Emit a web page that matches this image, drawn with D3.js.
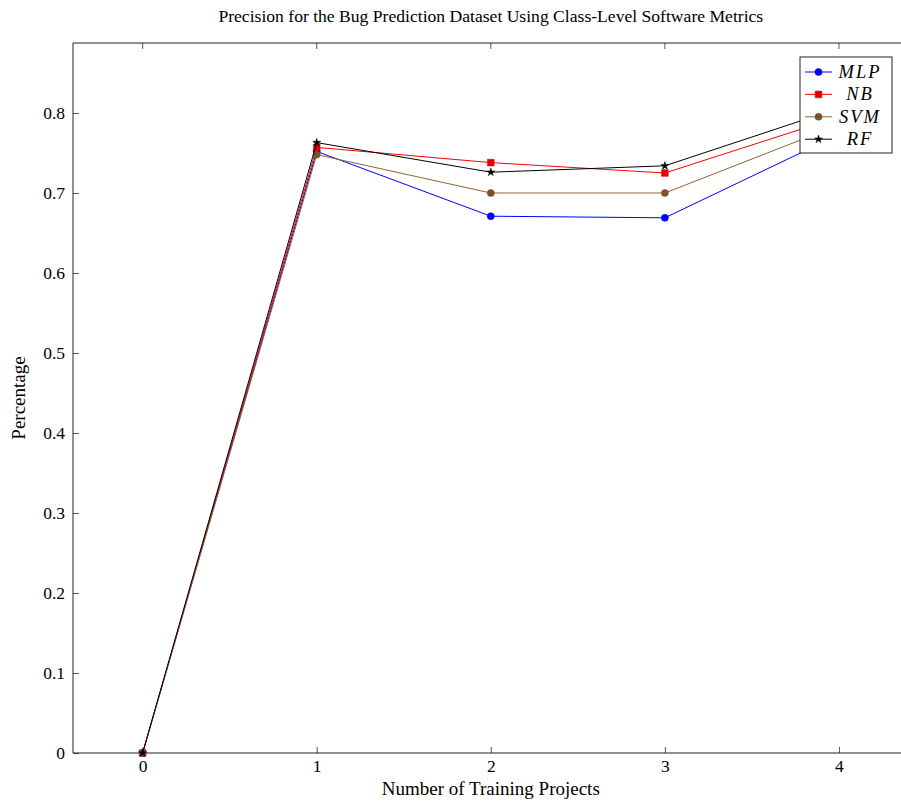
<!DOCTYPE html>
<html>
<head>
<meta charset="utf-8">
<script src="https://cdn.jsdelivr.net/npm/d3@7"></script>
<style>
  body { margin: 0; background: #fff; }
  text { font-family: "Liberation Serif", "Times New Roman", serif; fill: #000; }
</style>
</head>
<body>
<div id="chart"></div>
<script>
var projects = [0, 1, 2, 3, 4];
var mlp = [0, 0.752, 0.671, 0.669, 0.773];
var nb = [0, 0.757, 0.738, 0.725, 0.795];
var svm = [0, 0.748, 0.700, 0.700, 0.785];
var rf = [0, 0.763, 0.726, 0.734, 0.806];
var yTicks = [0, 0.1, 0.2, 0.3, 0.4, 0.5, 0.6, 0.7, 0.8];

var series = [
  { name: 'MLP', values: mlp, color: '#0000ff', fill: '#0000ff', mark: 'circle' },
  { name: 'NB', values: nb, color: '#ff0000', fill: '#e00000', mark: 'square' },
  { name: 'SVM', values: svm, color: '#8f6433', fill: '#7a5228', mark: 'circle' },
  { name: 'RF', values: rf, color: '#000000', fill: '#000000', mark: 'star' }
];

var width = 901, height = 808;
// plot box (window.top is reserved, so keep it in an object)
var box = { left: 73, right: 908.6, top: 43, bottom: 753 };

var svg = d3.select('#chart').append('svg')
  .attr('width', width)
  .attr('height', height);

var x = d3.scaleLinear().domain([-0.4, 4.4]).range([box.left, box.right]);
var y = d3.scaleLinear().domain([0, 0.8875]).range([box.bottom, box.top]);

// title
svg.append('text')
  .attr('x', (box.left + box.right) / 2)
  .attr('y', 22)
  .attr('text-anchor', 'middle')
  .style('font-size', '17.6px')
  .text('Precision for the Bug Prediction Dataset Using Class-Level Software Metrics');

// axes, ticks drawn inward like pgfplots
var xAxis = d3.axisBottom(x).tickValues(projects).tickFormat(d3.format('d'))
  .tickSizeInner(-6).tickSizeOuter(0).tickPadding(7);
var yAxis = d3.axisLeft(y).tickValues(yTicks).tickFormat(d => d === 0 ? '0' : d3.format('.1f')(d))
  .tickSizeInner(-6).tickSizeOuter(0).tickPadding(8);

var gx = svg.append('g')
  .attr('transform', `translate(0, ${box.bottom})`)
  .call(xAxis);
var gy = svg.append('g')
  .attr('transform', `translate(${box.left}, 0)`)
  .call(yAxis);

[gx, gy].forEach(g => {
  g.select('.domain').remove();
  g.selectAll('.tick line').attr('stroke', '#555');
  g.selectAll('.tick text')
    .style('font-family', '"Liberation Serif", serif')
    .style('font-size', '17.5px')
    .attr('fill', '#000');
});

// top ticks
svg.append('g').selectAll('line')
  .data(projects)
  .enter().append('line')
    .attr('x1', d => x(d)).attr('x2', d => x(d))
    .attr('y1', box.top).attr('y2', box.top + 6)
    .attr('stroke', '#555');

// frame
svg.append('path')
  .attr('d', `M${box.right},${box.top}H${box.left}V${box.bottom}H${box.right}V${box.top}`)
  .attr('fill', 'none')
  .attr('stroke', '#222')
  .attr('stroke-width', 1);

// axis labels
svg.append('text')
  .attr('x', (box.left + box.right) / 2)
  .attr('y', 795)
  .attr('text-anchor', 'middle')
  .style('font-size', '19px')
  .text('Number of Training Projects');

svg.append('text')
  .attr('transform', `translate(25, ${(box.top + box.bottom) / 2}) rotate(-90)`)
  .attr('text-anchor', 'middle')
  .style('font-size', '19px')
  .text('Percentage');

var line = d3.line()
  .x((d, i) => x(projects[i]))
  .y(d => y(d));

var symbols = {
  circle: d3.symbol().type(d3.symbolCircle).size(40),
  square: d3.symbol().type(d3.symbolSquare).size(45),
  star: d3.symbol().type(d3.symbolStar).size(20)
};

series.forEach(s => {
  svg.append('path')
    .datum(s.values)
    .attr('fill', 'none')
    .attr('stroke', s.color)
    .attr('stroke-width', 1)
    .attr('d', line);

  svg.append('g').selectAll('path')
    .data(s.values)
    .enter().append('path')
      .attr('transform', (d, i) => `translate(${x(projects[i])}, ${y(d)})`)
      .attr('d', symbols[s.mark]())
      .attr('fill', s.fill)
      .attr('stroke', s.fill)
      .attr('stroke-width', 0.5);
});

// legend
var legend = svg.append('g').attr('transform', 'translate(800, 57)');
legend.append('rect')
  .attr('width', 92)
  .attr('height', 96)
  .attr('fill', '#fff')
  .attr('stroke', '#222');

var rows = legend.selectAll('.entry')
  .data(series)
  .enter().append('g')
    .attr('class', 'entry')
    .attr('transform', (d, i) => `translate(0, ${15 + i * 22.4})`);

rows.append('line')
  .attr('x1', 5).attr('x2', 32)
  .attr('stroke', d => d.color);
rows.append('path')
  .attr('transform', 'translate(18.5, 0)')
  .attr('d', d => symbols[d.mark]())
  .attr('fill', d => d.fill)
  .attr('stroke', d => d.fill)
  .attr('stroke-width', 0.5);
rows.append('text')
  .attr('x', 60)
  .attr('y', 6)
  .attr('text-anchor', 'middle')
  .style('font-size', '18.5px')
  .style('font-style', 'italic')
  .style('letter-spacing', '2px')
  .text(d => d.name);
</script>
</body>
</html>
